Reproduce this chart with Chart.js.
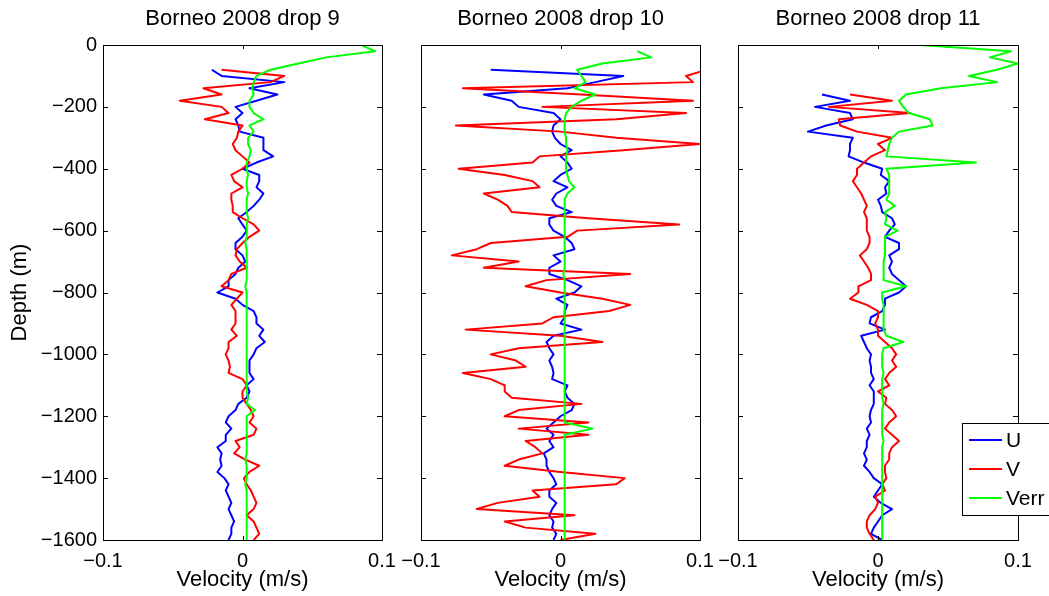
<!DOCTYPE html>
<html>
<head>
<meta charset="utf-8">
<script src="https://cdn.jsdelivr.net/npm/chart.js@4.4.1/dist/chart.umd.min.js"></script>
<style>
  html, body { margin: 0; padding: 0; background: #fff; }
  #wrap { position: relative; width: 1049px; height: 596px; overflow: hidden; }
  #wrap canvas { position: absolute; left: 0; top: 0; }
</style>
</head>
<body>
<div id="wrap">
  <canvas id="drop9" width="1049" height="596"></canvas>
  <canvas id="drop10" width="1049" height="596"></canvas>
  <canvas id="drop11" width="1049" height="596"></canvas>
</div>
<script>
// depth bins (m), shared by all profiles
const depth = [0, -20, -40, -60, -80, -100, -120, -140, -160, -180, -200, -220, -240, -260, -280, -300, -320, -340, -360, -380,
  -400, -420, -440, -460, -480, -500, -520, -540, -560, -580, -600, -620, -640, -660, -680, -700, -720, -740, -760, -780,
  -800, -820, -840, -860, -880, -900, -920, -940, -960, -980, -1000, -1020, -1040, -1060, -1080, -1100, -1120, -1140, -1160, -1180,
  -1200, -1220, -1240, -1260, -1280, -1300, -1320, -1340, -1360, -1380, -1400, -1420, -1440, -1460, -1480, -1500, -1520, -1540, -1560, -1580, -1600];

const xTicks = [-0.1, 0, 0.1];
const yTicks = [0, -200, -400, -600, -800, -1000, -1200, -1400, -1600];
const seriesNames = ['U', 'V', 'Verr'];
const seriesColors = ['#0000ff', '#ff0000', '#00ff00'];

// drop 9 (m/s)
const drop9U = [null, null, null, null,
  -0.022, -0.015, 0.030, 0.005, 0.025, 0.010, -0.005, 0.000, -0.005, -0.003, -0.002, 0.015, 0.015, 0.015, 0.022, 0.010, 0.000, 0.012, 0.012, 0.010, 0.015, 0.012, 0.008,
  0.003, -0.003, 0.000, 0.003, 0.000, -0.005, -0.005, 0.000, 0.002, -0.003, -0.005, -0.010, -0.010, -0.018, -0.005, 0.000, 0.008, 0.010, 0.010, 0.015, 0.012, 0.016, 0.010, 0.008, 0.005, 0.005,
  0.005, 0.008, 0.003, 0.005, 0.003, -0.003, -0.005, -0.010, -0.012, -0.008, -0.012, -0.012, -0.018, -0.015, -0.016, -0.015, -0.018, -0.013, -0.010, -0.012, -0.010, -0.008, -0.010, -0.008, -0.006, -0.008, -0.008, -0.010];
const drop9V = [null, null, null, null,
  -0.015, 0.030, 0.020, -0.028, -0.015, -0.045, -0.015, -0.010, -0.027, 0.000, -0.003, -0.004, -0.007, -0.005, 0.000, 0.005, 0.000, -0.008, -0.006, 0.000, -0.008, -0.008, -0.007,
  -0.007, 0.000, 0.008, 0.012, 0.005, 0.000, -0.004, -0.005, -0.002, 0.003, -0.008, -0.010, -0.015, 0.000, -0.004, -0.008, -0.005, -0.005, -0.005, -0.008, -0.004, -0.010, -0.010, -0.012, -0.010, -0.009,
  -0.010, 0.000, 0.003, 0.000, 0.000, 0.003, 0.006, 0.008, 0.005, 0.010, 0.008, -0.005, -0.002, -0.006, 0.002, 0.012, 0.005, 0.001, 0.003, 0.006, 0.008, 0.010, 0.008, 0.003, 0.008, 0.010, 0.012, 0.008];
const drop9Err = [0.085, 0.095, 0.060, 0.040, 0.020, 0.010, 0.008, 0.007, 0.008, 0.005, 0.005, 0.008, 0.015, 0.005, 0.008, 0.004, 0.004, 0.006, 0.005, 0.003, 0.003,
  0.004, 0.003, 0.003, 0.004, 0.003, 0.003, 0.003, 0.004, 0.003, 0.003, 0.003, 0.002, 0.003, 0.003, 0.003, 0.003, 0.003, 0.003, 0.002, 0.003,
  0.003, 0.003, 0.003, 0.003, 0.003, 0.003, 0.003, 0.003, 0.003, 0.003, 0.003, 0.003, 0.003, 0.003, 0.003, 0.003, 0.004, 0.003, 0.009, 0.003,
  0.003, 0.003, 0.003, 0.003, 0.003, 0.003, 0.002, 0.003, 0.003, 0.003, 0.002, 0.003, 0.003, 0.003, 0.003, 0.003, 0.003, 0.003, 0.003, 0.003];

// drop 10 (m/s)
const drop10U = [null, null, null, null,
  -0.050, 0.045, 0.025, 0.005, -0.055, -0.035, -0.030, -0.005, 0.000, -0.005, -0.006, -0.004, 0.000, 0.008, 0.000, 0.005, 0.008, 0.000, -0.005, 0.005, -0.003, -0.006, -0.003,
  0.008, -0.008, -0.008, -0.005, 0.003, 0.008, 0.010, -0.005, 0.000, -0.008, -0.008, 0.005, 0.015, 0.010, -0.003, 0.005, 0.003, 0.003, 0.000, 0.015, -0.005, -0.010, -0.008, -0.005, -0.008, -0.006,
  -0.005, -0.006, 0.005, 0.003, 0.005, 0.010, 0.008, 0.000, -0.005, -0.010, -0.005, -0.008, -0.005, -0.012, -0.010, -0.010, -0.008, -0.005, -0.003, -0.008, -0.008, -0.003, -0.006, -0.008, -0.005, -0.006, -0.003, -0.005];
const drop10V = [null, null, null, null,
  0.105, 0.090, 0.095, -0.070, 0.015, 0.095, -0.013, 0.090, 0.040, -0.075, 0.000, 0.040, 0.100, 0.045, -0.015, -0.020, -0.073, -0.040, -0.020, -0.015, -0.055, -0.045, -0.038,
  -0.035, 0.020, 0.085, 0.012, 0.005, -0.050, -0.060, -0.078, -0.030, -0.055, 0.050, -0.010, -0.025, 0.000, 0.030, 0.050, 0.035, -0.005, -0.013, -0.068, 0.000, 0.030, -0.030, -0.050, -0.032, -0.025,
  -0.070, -0.050, -0.040, -0.040, -0.035, 0.015, -0.030, -0.040, 0.020, -0.030, 0.020, -0.025, -0.018, -0.013, -0.030, -0.040, 0.000, 0.046, 0.040, -0.020, -0.015, -0.045, -0.060, 0.010, -0.040, -0.025, 0.025, 0.000];
const drop10Err = [null, 0.055, 0.065, 0.030, 0.012, 0.015, 0.018, 0.010, 0.025, 0.015, 0.008, 0.004, 0.003, 0.003, 0.003, 0.004, 0.004, 0.005, 0.004, 0.004, 0.004,
  0.005, 0.006, 0.010, 0.005, 0.003, 0.003, 0.003, 0.003, 0.003, 0.003, 0.003, 0.003, 0.003, 0.003, 0.003, 0.003, 0.002, 0.003, 0.003, 0.003,
  0.003, 0.003, 0.003, 0.003, 0.003, 0.003, 0.003, 0.003, 0.003, 0.003, 0.003, 0.003, 0.003, 0.003, 0.003, 0.003, 0.003, 0.003, 0.003, 0.003,
  0.003, 0.023, 0.003, 0.003, 0.003, 0.003, 0.003, 0.003, 0.003, 0.003, 0.003, 0.003, 0.003, 0.003, 0.003, 0.003, 0.003, 0.003, 0.003, 0.003];

// drop 11 (m/s)
const drop11U = [null, null, null, null, null, null, null, null,
  -0.040, -0.020, -0.045, -0.020, -0.018, -0.037, -0.050, -0.018, -0.020, -0.020, -0.021, -0.010, 0.003, 0.002, 0.008, 0.005, 0.006, 0.000, 0.002,
  0.003, 0.010, 0.012, 0.008, 0.005, 0.015, 0.015, 0.008, 0.010, 0.008, 0.010, 0.015, 0.020, 0.015, 0.005, 0.005, 0.003, -0.005, -0.006, 0.005, -0.012, -0.010, -0.008, -0.005, -0.006, -0.005,
  -0.005, -0.003, -0.006, -0.003, -0.003, -0.003, -0.005, -0.006, -0.005, -0.008, -0.006, -0.008, -0.008, -0.010, -0.008, -0.010, -0.006, -0.003, 0.003, 0.000, -0.003, 0.002, 0.010, 0.003, 0.000, -0.003, -0.005, 0.003];
const drop11V = [null, null, null, null, null, null, null, null,
  -0.020, 0.010, -0.035, 0.023, -0.028, -0.027, -0.015, 0.010, 0.000, 0.005, -0.005, -0.010, -0.015, -0.015, -0.018, -0.015, -0.012, -0.010, -0.008,
  -0.010, -0.008, -0.008, -0.008, -0.006, -0.006, -0.008, -0.013, -0.010, -0.007, -0.005, -0.005, -0.014, -0.014, -0.020, -0.008, 0.000, 0.000, -0.002, 0.000, 0.000, 0.005, 0.010, 0.013, 0.010, 0.013,
  0.008, 0.005, 0.008, 0.000, 0.006, 0.005, 0.010, 0.013, 0.008, 0.005, 0.010, 0.015, 0.010, 0.008, 0.008, 0.005, 0.005, 0.006, 0.003, 0.005, -0.002, 0.000, -0.002, -0.006, -0.008, -0.008, -0.006, -0.003];
const drop11Err = [0.030, 0.095, 0.080, 0.100, 0.085, 0.065, 0.085, 0.045, 0.020, 0.015, 0.018, 0.022, 0.037, 0.039, 0.015, 0.010, 0.008, 0.007, 0.006, 0.070, 0.006,
  0.008, 0.008, 0.008, 0.008, 0.006, 0.012, 0.005, 0.006, 0.005, 0.014, 0.005, 0.005, 0.005, 0.005, 0.004, 0.004, 0.004, 0.004, 0.020, 0.003,
  0.003, 0.004, 0.004, 0.004, 0.004, 0.004, 0.006, 0.018, 0.004, 0.003, 0.003, 0.003, 0.004, 0.003, 0.003, 0.003, 0.003, 0.004, 0.003, 0.003,
  0.003, 0.003, 0.003, 0.004, 0.003, 0.003, 0.003, 0.003, 0.003, 0.003, 0.003, 0.003, 0.003, 0.003, 0.003, 0.003, 0.003, 0.003, 0.003, 0.003];

Chart.defaults.font.family = "'Liberation Sans', Arial, Helvetica, sans-serif";
Chart.defaults.font.size = 20;
Chart.defaults.color = '#000';

function minusLabel(v) {
    if (v === 0) return '0';
    return (v < 0 ? '\u2212' : '') + Math.abs(v);
}

// box, inward tick marks and (optionally) legend, matlab style
const frameTicks = {
    id: 'frameTicks',
    afterDraw(chart, args, opts) {
        const {ctx, chartArea: a, scales} = chart;
        ctx.save();
        ctx.strokeStyle = '#000';
        ctx.lineWidth = 1;
        ctx.beginPath();
        scales.y.ticks.forEach(t => {
            const py = Math.round(scales.y.getPixelForValue(t.value)) + 0.5;
            ctx.moveTo(a.left, py); ctx.lineTo(a.left + 5, py);
            ctx.moveTo(a.right, py); ctx.lineTo(a.right - 5, py);
        });
        scales.x.ticks.forEach(t => {
            const px = Math.round(scales.x.getPixelForValue(t.value)) + 0.5;
            ctx.moveTo(px, a.top); ctx.lineTo(px, a.top + 4);
            ctx.moveTo(px, a.bottom); ctx.lineTo(px, a.bottom - 4);
        });
        ctx.stroke();
        ctx.strokeRect(Math.round(a.left) + 0.5, Math.round(a.top) + 0.5, Math.round(a.width), Math.round(a.height));

        if (opts.legend) {
            const bx = Math.round(a.right) - 56;
            const by = Math.round(a.bottom) - 117;
            ctx.fillStyle = '#fff';
            ctx.fillRect(bx, by, 130, 92);
            ctx.strokeRect(bx + 0.5, by + 0.5, 130, 92);
            ctx.font = "21px 'Liberation Sans', Arial, sans-serif";
            ctx.textBaseline = 'middle';
            chart.data.datasets.forEach((ds, i) => {
                const ry = by + 17 + i * 29;
                ctx.strokeStyle = ds.borderColor;
                ctx.lineWidth = 2;
                ctx.beginPath();
                ctx.moveTo(bx + 7, ry); ctx.lineTo(bx + 40, ry);
                ctx.stroke();
                ctx.fillStyle = '#000';
                ctx.fillText(ds.label, bx + 44, ry + 1);
            });
        }
        ctx.restore();
    }
};

function makePanel(id, title, series, showY, padLeft, padRight, legend) {
    const datasets = series.map((vals, i) => ({
        label: seriesNames[i],
        data: depth.map((d, k) => ({x: vals[k], y: d})),
        borderColor: seriesColors[i],
        backgroundColor: seriesColors[i],
        borderWidth: 2,
        borderJoinStyle: 'round',
        showLine: true,
        pointRadius: 0,
        tension: 0,
        order: 2 - i
    }));

    new Chart(document.getElementById(id), {
        type: 'scatter',
        data: {datasets: datasets},
        plugins: [frameTicks],
        options: {
            responsive: false,
            animation: false,
            events: [],
            devicePixelRatio: 1,
            layout: {padding: {left: padLeft, right: padRight, top: 0, bottom: 3}},
            plugins: {
                legend: {display: false},
                tooltip: {enabled: false},
                title: {
                    display: true,
                    text: title,
                    fullSize: false,
                    color: '#000',
                    font: {size: 22, weight: 'normal'},
                    padding: {top: 6, bottom: 12.6}
                },
                frameTicks: {legend: legend}
            },
            scales: {
                x: {
                    type: 'linear',
                    min: -0.1,
                    max: 0.1,
                    afterBuildTicks: s => { s.ticks = xTicks.map(v => ({value: v})); },
                    afterFit: s => { s.height = 53; },
                    grid: {display: false, drawTicks: false},
                    border: {display: false},
                    ticks: {padding: 9, autoSkip: false, maxRotation: 0, callback: v => minusLabel(v)},
                    title: {display: true, text: 'Velocity (m/s)', padding: 0, font: {size: 22}}
                },
                y: {
                    type: 'linear',
                    min: -1600,
                    max: 0,
                    afterBuildTicks: s => { s.ticks = yTicks.map(v => ({value: v})); },
                    afterFit: s => { s.width = showY ? 96 : 0; },
                    grid: {display: false, drawTicks: false},
                    border: {display: false},
                    ticks: {display: showY, padding: 6, autoSkip: false, callback: v => minusLabel(v)},
                    title: {display: showY, text: 'Depth (m)', padding: 0, font: {size: 22}}
                }
            }
        }
    });
}

makePanel('drop9', 'Borneo 2008 drop 9', [drop9U, drop9V, drop9Err], true, 7, 667, false);
makePanel('drop10', 'Borneo 2008 drop 10', [drop10U, drop10V, drop10Err], false, 421, 349, false);
makePanel('drop11', 'Borneo 2008 drop 11', [drop11U, drop11V, drop11Err], false, 738, 31, true);
</script>
</body>
</html>
